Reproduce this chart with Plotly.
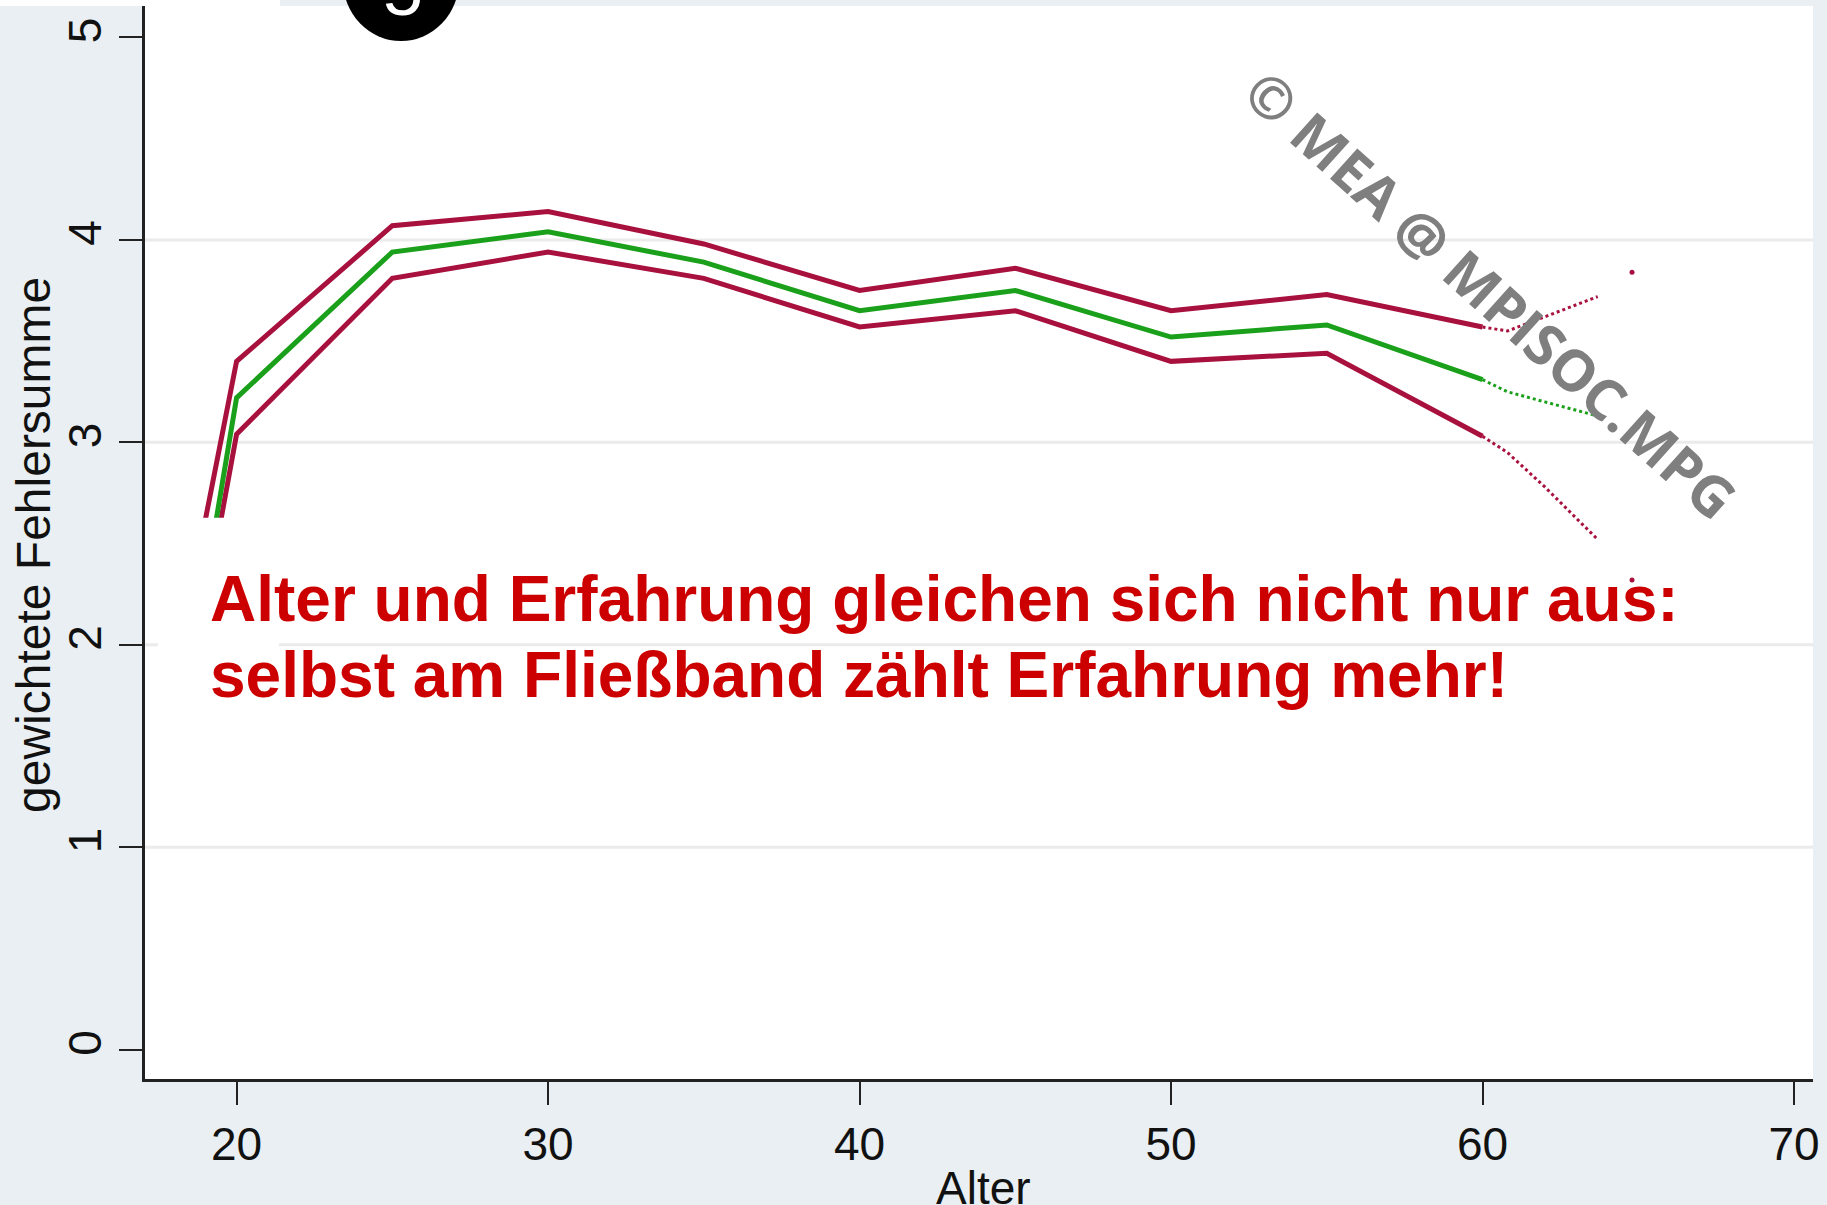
import plotly.graph_objects as go

# ---- data ----
age_main = [19, 20, 25, 30, 35, 40, 45, 50, 55, 60]
upper_main = [2.62, 3.40, 4.07, 4.14, 3.98, 3.75, 3.86, 3.65, 3.73, 3.57]
mean_main = [2.30, 3.22, 3.94, 4.04, 3.89, 3.65, 3.75, 3.52, 3.58, 3.31]
lower_main = [2.20, 3.04, 3.81, 3.94, 3.81, 3.57, 3.65, 3.40, 3.44, 3.03]

age_tail = [60, 60.8, 62, 63.7]
upper_tail = [3.57, 3.55, 3.62, 3.72]
mean_tail = [3.31, 3.25, 3.20, 3.13]
lower_tail = [3.03, 2.95, 2.78, 2.52]

age_dot = [64.8]
upper_dot = [3.84]
lower_dot = [2.32]

x_ticks = [20, 30, 40, 50, 60, 70]
y_ticks = [0, 1, 2, 3, 4, 5]
grid_vals = [1, 2, 3, 4]

W, H = 1827, 1205
RED = "#A8103E"
GREEN = "#1AA01A"
BG = "#E9EFF3"

fig = go.Figure()
for ys, col in [(upper_main, RED), (lower_main, RED), (mean_main, GREEN)]:
    fig.add_trace(go.Scatter(x=age_main, y=ys, mode="lines",
                             line=dict(color=col, width=5), hoverinfo="skip"))
for ys, col in [(upper_tail, RED), (lower_tail, RED), (mean_tail, GREEN)]:
    fig.add_trace(go.Scatter(x=age_tail, y=ys, mode="lines",
                             line=dict(color=col, width=3, dash="dot"), hoverinfo="skip"))
fig.add_trace(go.Scatter(x=age_dot + age_dot, y=upper_dot + lower_dot, mode="markers",
                         marker=dict(color=RED, size=5), hoverinfo="skip"))

def px(x):
    return x / W

def py(y):
    return 1 - y / H

axfont = dict(family="Liberation Sans, Arial, sans-serif", size=46, color="#111111")

fig.update_layout(
    width=W, height=H,
    margin=dict(l=0, r=0, t=0, b=0),
    paper_bgcolor=BG, plot_bgcolor="white",
    showlegend=False,
    xaxis=dict(domain=[px(145), px(1813)], range=[17.06, 70.61],
               tickvals=x_ticks, ticks="outside", ticklen=23, tickwidth=2,
               tickcolor="#222222", showline=True, linecolor="#222222", linewidth=3,
               showgrid=False, zeroline=False, tickfont=axfont, automargin=False),
    yaxis=dict(domain=[1 - 1079 / H, 1 - 6 / H], range=[-0.144, 5.155],
               tickvals=y_ticks, ticks="outside", ticklen=23, tickwidth=2,
               tickcolor="#222222", showline=True, linecolor="#222222", linewidth=3,
               showgrid=False, zeroline=False,
               tickangle=-90, tickfont=axfont, automargin=False),
)

# horizontal grid lines (none at the top tick)
for g in grid_vals:
    fig.add_shape(type="line", xref="paper", yref="y", x0=px(145), x1=px(1813), y0=g, y1=g,
                  line=dict(color="#EBEBEB", width=3), layer="below")

# white box behind the text that hides the start of the lines
fig.add_shape(type="rect", xref="x", yref="y", x0=17.48, x1=21.36, y0=1.6, y1=2.628,
              fillcolor="white", line=dict(width=0), layer="above")
# top-left white strip
fig.add_shape(type="rect", xref="paper", yref="paper", x0=0, x1=px(280), y0=py(6), y1=1.01,
              fillcolor="white", line=dict(width=0), layer="above")
# black numbered bullet at top
fig.add_shape(type="circle", xref="paper", yref="paper", x0=px(343), x1=px(459),
              y0=py(41), y1=py(-80), fillcolor="black", line=dict(width=0), layer="above")
fig.add_annotation(xref="paper", yref="paper", x=px(403), y=py(32), text="5",
                   showarrow=False, xanchor="center", yanchor="bottom",
                   font=dict(family="Liberation Sans, Arial, sans-serif", size=72, color="white"))

# axis titles
fig.add_annotation(xref="paper", yref="paper", x=px(983), y=py(1160), text="Alter",
                   showarrow=False, xanchor="center", yanchor="top",
                   font=dict(family="Liberation Sans, Arial, sans-serif", size=46, color="#111111"))
fig.add_annotation(xref="paper", yref="paper", x=px(34), y=py(545), text="gewichtete Fehlersumme",
                   showarrow=False, xanchor="center", yanchor="middle", textangle=-90,
                   font=dict(family="Liberation Sans, Arial, sans-serif", size=48, color="#111111"))

# red message
tfont = dict(family="Liberation Sans, Arial, sans-serif", size=64, color="#CC0000", weight="bold")
fig.add_annotation(xref="paper", yref="paper", x=px(208), y=py(599), xanchor="left", yanchor="middle",
                   text="<b>Alter und Erfahrung gleichen sich nicht nur aus:</b>", showarrow=False, font=tfont)
fig.add_annotation(xref="paper", yref="paper", x=px(208), y=py(675), xanchor="left", yanchor="middle",
                   text="<b>selbst am Fließband zählt Erfahrung mehr!</b>", showarrow=False, font=tfont)

# watermark
fig.add_annotation(xref="paper", yref="paper", x=px(1491), y=py(294), xanchor="center", yanchor="middle",
                   text="<b>© MEA @ MPISOC.MPG</b>", showarrow=False, textangle=42,
                   font=dict(family="Open Sans, sans-serif", size=57, color="#7F7F7F"))

fig.write_html("out.html", config={"displayModeBar": False},
               post_script="document.body.style.margin='0px';document.body.style.overflow='hidden';")
